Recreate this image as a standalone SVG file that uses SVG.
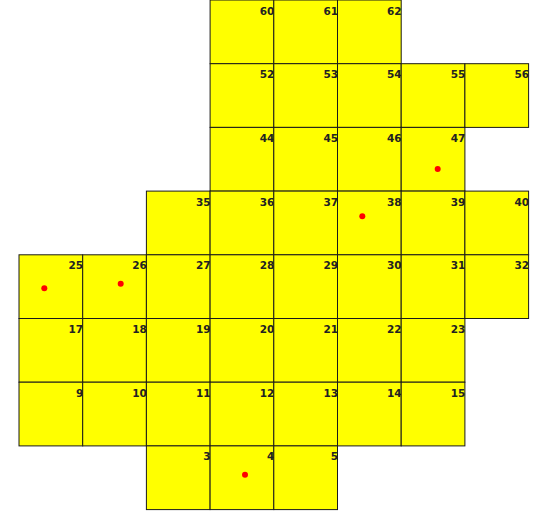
<svg xmlns="http://www.w3.org/2000/svg" width="540" height="511" viewBox="0 0 540 511">
<style>
.c rect{fill:#ffff00;stroke:#1a1a1a;stroke-width:1}
.c text{font-family:"DejaVu Sans",Verdana,sans-serif;font-weight:bold;font-size:10.5px;fill:#222;text-anchor:end}
.d{fill:#ff0000}
</style>
<rect width="540" height="511" fill="#ffffff"/>
<g class="c">
<g id="n60"><rect x="210.1" y="0" width="63.7" height="63.7"/><text x="274.3" y="14.5">60</text></g>
<g id="n61"><rect x="273.8" y="0" width="63.7" height="63.7"/><text x="338" y="14.5">61</text></g>
<g id="n62"><rect x="337.5" y="0" width="63.7" height="63.7"/><text x="401.7" y="14.5">62</text></g>
<g id="n52"><rect x="210.1" y="63.7" width="63.7" height="63.7"/><text x="274.3" y="78.2">52</text></g>
<g id="n53"><rect x="273.8" y="63.7" width="63.7" height="63.7"/><text x="338" y="78.2">53</text></g>
<g id="n54"><rect x="337.5" y="63.7" width="63.7" height="63.7"/><text x="401.7" y="78.2">54</text></g>
<g id="n55"><rect x="401.2" y="63.7" width="63.7" height="63.7"/><text x="465.4" y="78.2">55</text></g>
<g id="n56"><rect x="464.9" y="63.7" width="63.7" height="63.7"/><text x="529.1" y="78.2">56</text></g>
<g id="n44"><rect x="210.1" y="127.4" width="63.7" height="63.7"/><text x="274.3" y="141.9">44</text></g>
<g id="n45"><rect x="273.8" y="127.4" width="63.7" height="63.7"/><text x="338" y="141.9">45</text></g>
<g id="n46"><rect x="337.5" y="127.4" width="63.7" height="63.7"/><text x="401.7" y="141.9">46</text></g>
<g id="n47"><rect x="401.2" y="127.4" width="63.7" height="63.7"/><text x="465.4" y="141.9">47</text></g>
<g id="n35"><rect x="146.4" y="191.1" width="63.7" height="63.7"/><text x="210.6" y="205.6">35</text></g>
<g id="n36"><rect x="210.1" y="191.1" width="63.7" height="63.7"/><text x="274.3" y="205.6">36</text></g>
<g id="n37"><rect x="273.8" y="191.1" width="63.7" height="63.7"/><text x="338" y="205.6">37</text></g>
<g id="n38"><rect x="337.5" y="191.1" width="63.7" height="63.7"/><text x="401.7" y="205.6">38</text></g>
<g id="n39"><rect x="401.2" y="191.1" width="63.7" height="63.7"/><text x="465.4" y="205.6">39</text></g>
<g id="n40"><rect x="464.9" y="191.1" width="63.7" height="63.7"/><text x="529.1" y="205.6">40</text></g>
<g id="n25"><rect x="19" y="254.8" width="63.7" height="63.7"/><text x="83.2" y="269.3">25</text></g>
<g id="n26"><rect x="82.7" y="254.8" width="63.7" height="63.7"/><text x="146.9" y="269.3">26</text></g>
<g id="n27"><rect x="146.4" y="254.8" width="63.7" height="63.7"/><text x="210.6" y="269.3">27</text></g>
<g id="n28"><rect x="210.1" y="254.8" width="63.7" height="63.7"/><text x="274.3" y="269.3">28</text></g>
<g id="n29"><rect x="273.8" y="254.8" width="63.7" height="63.7"/><text x="338" y="269.3">29</text></g>
<g id="n30"><rect x="337.5" y="254.8" width="63.7" height="63.7"/><text x="401.7" y="269.3">30</text></g>
<g id="n31"><rect x="401.2" y="254.8" width="63.7" height="63.7"/><text x="465.4" y="269.3">31</text></g>
<g id="n32"><rect x="464.9" y="254.8" width="63.7" height="63.7"/><text x="529.1" y="269.3">32</text></g>
<g id="n17"><rect x="19" y="318.5" width="63.7" height="63.7"/><text x="83.2" y="333">17</text></g>
<g id="n18"><rect x="82.7" y="318.5" width="63.7" height="63.7"/><text x="146.9" y="333">18</text></g>
<g id="n19"><rect x="146.4" y="318.5" width="63.7" height="63.7"/><text x="210.6" y="333">19</text></g>
<g id="n20"><rect x="210.1" y="318.5" width="63.7" height="63.7"/><text x="274.3" y="333">20</text></g>
<g id="n21"><rect x="273.8" y="318.5" width="63.7" height="63.7"/><text x="338" y="333">21</text></g>
<g id="n22"><rect x="337.5" y="318.5" width="63.7" height="63.7"/><text x="401.7" y="333">22</text></g>
<g id="n23"><rect x="401.2" y="318.5" width="63.7" height="63.7"/><text x="465.4" y="333">23</text></g>
<g id="n9"><rect x="19" y="382.2" width="63.7" height="63.7"/><text x="83.2" y="396.7">9</text></g>
<g id="n10"><rect x="82.7" y="382.2" width="63.7" height="63.7"/><text x="146.9" y="396.7">10</text></g>
<g id="n11"><rect x="146.4" y="382.2" width="63.7" height="63.7"/><text x="210.6" y="396.7">11</text></g>
<g id="n12"><rect x="210.1" y="382.2" width="63.7" height="63.7"/><text x="274.3" y="396.7">12</text></g>
<g id="n13"><rect x="273.8" y="382.2" width="63.7" height="63.7"/><text x="338" y="396.7">13</text></g>
<g id="n14"><rect x="337.5" y="382.2" width="63.7" height="63.7"/><text x="401.7" y="396.7">14</text></g>
<g id="n15"><rect x="401.2" y="382.2" width="63.7" height="63.7"/><text x="465.4" y="396.7">15</text></g>
<g id="n3"><rect x="146.4" y="445.9" width="63.7" height="63.7"/><text x="210.6" y="460.4">3</text></g>
<g id="n4"><rect x="210.1" y="445.9" width="63.7" height="63.7"/><text x="274.3" y="460.4">4</text></g>
<g id="n5"><rect x="273.8" y="445.9" width="63.7" height="63.7"/><text x="338" y="460.4">5</text></g>
</g>
<g id="connectors"></g>
<g id="dots">
<circle class="d" cx="44.3" cy="288.3" r="3"/>
<circle class="d" cx="120.7" cy="283.7" r="3"/>
<circle class="d" cx="437.7" cy="169" r="3"/>
<circle class="d" cx="362.3" cy="216.3" r="3"/>
<circle class="d" cx="245" cy="474.7" r="3"/>
</g>
</svg>
